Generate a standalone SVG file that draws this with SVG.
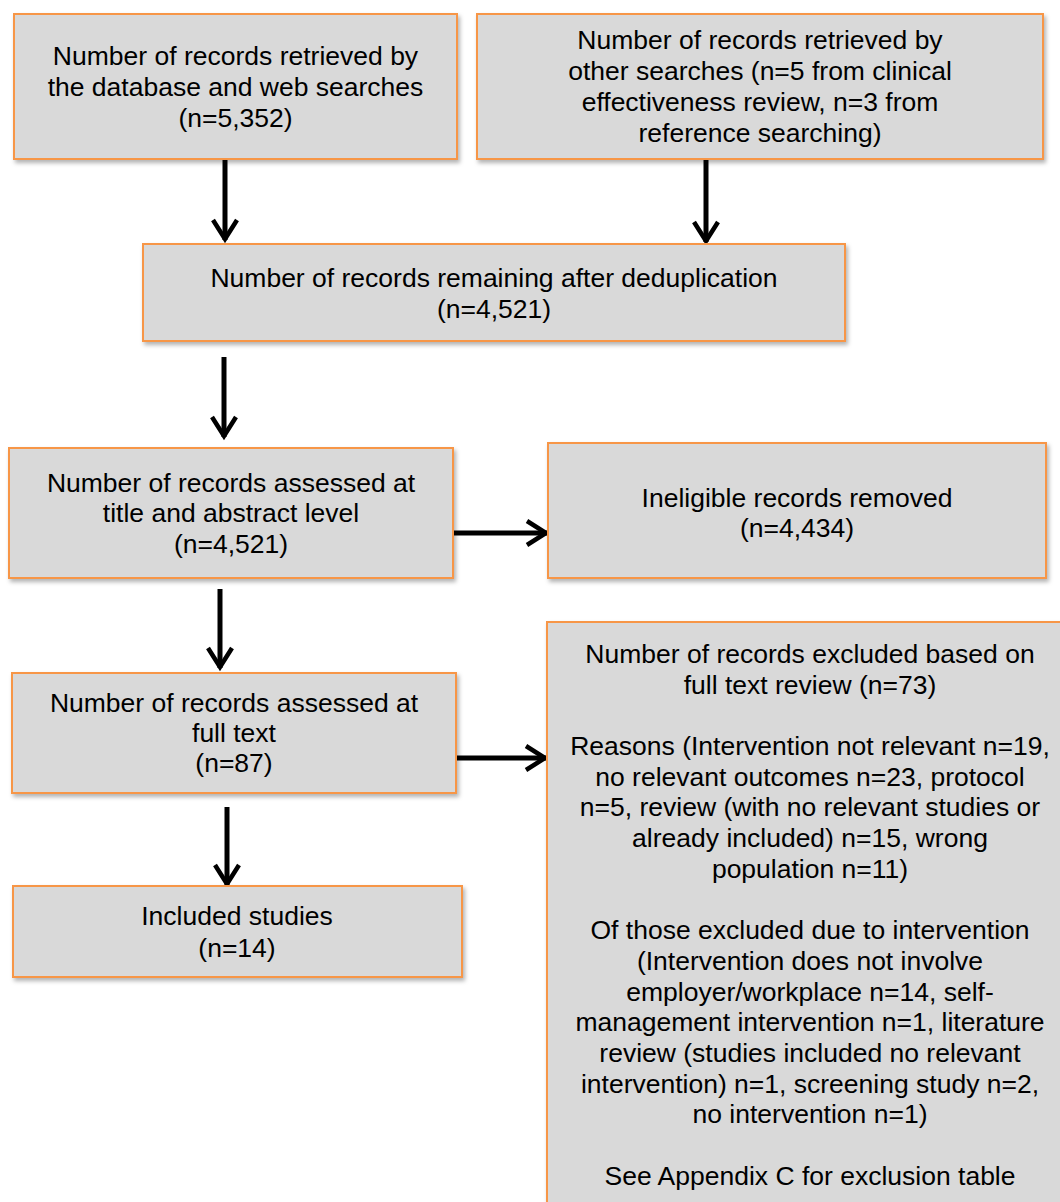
<svg xmlns="http://www.w3.org/2000/svg" width="1060" height="1202" viewBox="0 0 1060 1202">
<style>
.box{fill:#d9d9d9;stroke:#f79646;stroke-width:2;filter:url(#sh)}
.t{font-family:"Liberation Sans",Arial,sans-serif;font-size:26.5px;fill:#000;text-anchor:middle}
.c{stroke:#000;stroke-width:5;fill:none;marker-end:url(#ah)}
</style>
<defs>
<filter id="sh" x="-5%" y="-5%" width="115%" height="120%">
<feDropShadow dx="2" dy="3" stdDeviation="2" flood-color="#000" flood-opacity="0.3"/>
</filter>
<marker id="ah" markerUnits="userSpaceOnUse" viewBox="-26 -16 30 32" markerWidth="30" markerHeight="32" refX="0" refY="0" orient="auto">
<path d="M-20,-12 L-1,0 L-20,12" fill="none" stroke="#000" stroke-width="4.5"/>
</marker>
</defs>
<rect width="1060" height="1202" fill="#fff"/>
<g id="connectors">
<line class="c" x1="225" y1="160" x2="225" y2="240"/>
<line class="c" x1="706" y1="160" x2="706" y2="242"/>
<line class="c" x1="224" y1="357" x2="224" y2="437"/>
<line class="c" x1="454" y1="533" x2="547" y2="533"/>
<line class="c" x1="220" y1="589" x2="220" y2="668"/>
<line class="c" x1="457" y1="758" x2="546" y2="758"/>
<line class="c" x1="227" y1="807" x2="227" y2="885"/>
</g>
<g id="n1">
<rect class="box" x="14" y="14" width="443" height="145"/>
<text class="t" x="235.5" y="65">Number of records retrieved by</text>
<text class="t" x="235.5" y="96">the database and web searches</text>
<text class="t" x="235.5" y="127">(n=5,352)</text>
</g>
<g id="n2">
<rect class="box" x="477" y="14" width="566" height="145"/>
<text class="t" x="760" y="49">Number of records retrieved by</text>
<text class="t" x="760" y="80">other searches (n=5 from clinical</text>
<text class="t" x="760" y="111">effectiveness review, n=3 from</text>
<text class="t" x="760" y="142">reference searching)</text>
</g>
<g id="n3">
<rect class="box" x="143" y="244" width="702" height="97"/>
<text class="t" x="494" y="287">Number of records remaining after deduplication</text>
<text class="t" x="494" y="318">(n=4,521)</text>
</g>
<g id="n4">
<rect class="box" x="9" y="448" width="444" height="130"/>
<text class="t" x="231" y="492">Number of records assessed at</text>
<text class="t" x="231" y="522">title and abstract level</text>
<text class="t" x="231" y="553">(n=4,521)</text>
</g>
<g id="n5">
<rect class="box" x="548" y="443" width="498" height="135"/>
<text class="t" x="797" y="507">Ineligible records removed</text>
<text class="t" x="797" y="537">(n=4,434)</text>
</g>
<g id="n6">
<rect class="box" x="12" y="673" width="444" height="120"/>
<text class="t" x="234" y="712">Number of records assessed at</text>
<text class="t" x="234" y="742">full text</text>
<text class="t" x="234" y="772">(n=87)</text>
</g>
<g id="n7">
<rect class="box" x="13" y="886" width="449" height="91"/>
<text class="t" x="237" y="925">Included studies</text>
<text class="t" x="237" y="957">(n=14)</text>
</g>
<g id="n8">
<rect class="box" x="547" y="622" width="530" height="600"/>
<text class="t" x="810" y="663">Number of records excluded based on</text>
<text class="t" x="810" y="694">full text review (n=73)</text>
<text class="t" x="810" y="755">Reasons (Intervention not relevant n=19,</text>
<text class="t" x="810" y="786">no relevant outcomes n=23, protocol</text>
<text class="t" x="810" y="816">n=5, review (with no relevant studies or</text>
<text class="t" x="810" y="847">already included) n=15, wrong</text>
<text class="t" x="810" y="878">population n=11)</text>
<text class="t" x="810" y="939">Of those excluded due to intervention</text>
<text class="t" x="810" y="970">(Intervention does not involve</text>
<text class="t" x="810" y="1001">employer/workplace n=14, self-</text>
<text class="t" x="810" y="1031">management intervention n=1, literature</text>
<text class="t" x="810" y="1062">review (studies included no relevant</text>
<text class="t" x="810" y="1093">intervention) n=1, screening study n=2,</text>
<text class="t" x="810" y="1123">no intervention n=1)</text>
<text class="t" x="810" y="1185">See Appendix C for exclusion table</text>
</g>
</svg>
